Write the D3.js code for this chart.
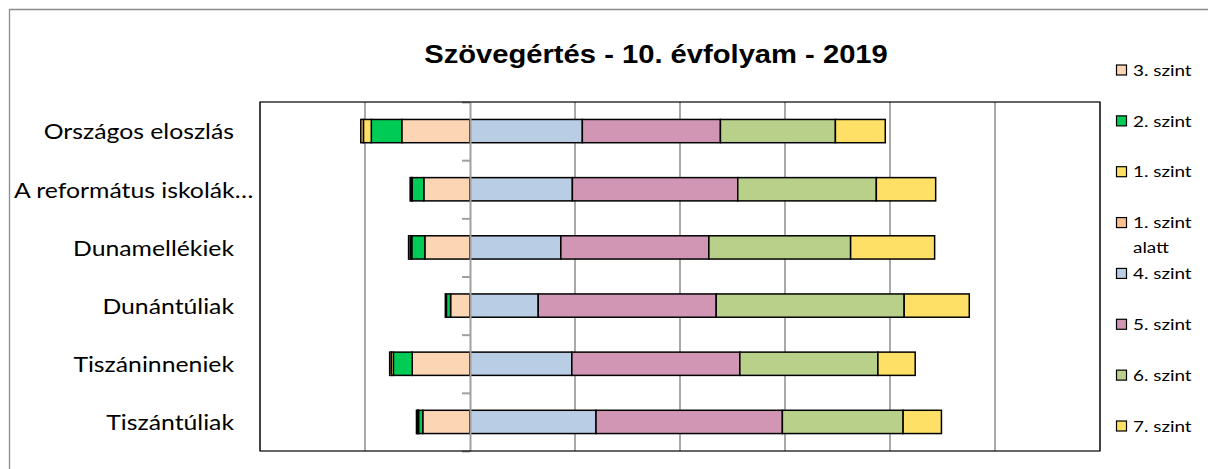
<!DOCTYPE html>
<html>
<head>
<meta charset="utf-8">
<script src="https://cdn.jsdelivr.net/npm/d3@7"></script>
<style>
  html, body { margin: 0; padding: 0; background: #fff; overflow: hidden; }
  svg { display: block; }
</style>
</head>
<body>
<svg id="chart" width="1208" height="469"></svg>
<script>
// ---- data ----
const categories = ["Országos eloszlás", "A református iskolák…", "Dunamellékiek", "Dunántúliak", "Tiszáninneniek", "Tiszántúliak"];
const levels = ["3. szint", "2. szint", "1. szint", "1. szint alatt", "4. szint", "5. szint", "6. szint", "7. szint"];
const negativeLevels = ["3. szint", "2. szint", "1. szint", "1. szint alatt"];
const szint3 = [13.0, 8.8, 8.6, 3.7, 11.0, 9.0];
const szint2 = [5.8, 2.2, 2.5, 0.8, 3.6, 0.8];
const szint1 = [1.5, 0.2, 0.3, 0.1, 0.4, 0.2];
const szint1alatt = [0.5, 0.2, 0.3, 0.1, 0.3, 0.2];
const szint4 = [21.4, 19.5, 17.3, 13.0, 19.4, 24.0];
const szint5 = [26.3, 31.5, 28.2, 33.9, 32.0, 35.5];
const szint6 = [21.9, 26.4, 27.0, 35.8, 26.3, 23.0];
const szint7 = [9.5, 11.3, 16.0, 12.4, 7.1, 7.3];
const gridValues = [-40, -20, 20, 40, 60, 80, 100, 120];
const title = "Szövegértés - 10. évfolyam - 2019";

const seriesValues = {
  "3. szint": szint3, "2. szint": szint2, "1. szint": szint1, "1. szint alatt": szint1alatt,
  "4. szint": szint4, "5. szint": szint5, "6. szint": szint6, "7. szint": szint7
};
const colors = {
  "3. szint": "#FCD5B4", "2. szint": "#00CC55", "1. szint": "#FFE066", "1. szint alatt": "#FAC090",
  "4. szint": "#B9CDE5", "5. szint": "#D196B3", "6. szint": "#B9D08A", "7. szint": "#FFE066"
};

// table for d3.stack (negative side stored as negative values)
const table = categories.map((c, i) => {
  const row = { cat: c };
  levels.forEach(l => {
    row[l] = negativeLevels.includes(l) ? -seriesValues[l][i] : seriesValues[l][i];
  });
  return row;
});

const svg = d3.select("#chart");
const W = 1208, H = 469;
const plot = { left: 260, right: 1100, top: 102, bottom: 451 };
const textStretch = 1.18;
const bodyFont = "Lato, 'Open Sans', sans-serif";

// outer chart frame: only top and left edges fall inside the window
svg.append("path")
  .attr("d", `M9.5,${H} V9.5 H${W}`)
  .attr("fill", "none").attr("stroke", "#8c8c8c").attr("stroke-width", 1.3);

const x = d3.scaleLinear().domain([-40, 120]).range([plot.left, plot.right]);
const y = d3.scaleBand().domain(categories).range([plot.top, plot.bottom]).paddingInner(0.6).paddingOuter(0.3);
const yLin = d3.scaleLinear().domain([0, categories.length]).range([plot.top, plot.bottom]);

// gridlines
svg.append("g").selectAll("line").data(gridValues).join("line")
  .attr("x1", d => x(d)).attr("x2", d => x(d))
  .attr("y1", plot.top).attr("y2", plot.bottom)
  .attr("stroke", "#a0a0a0").attr("stroke-width", 1.8);

// stacked bars
const stack = d3.stack().keys(levels).offset(d3.stackOffsetDiverging);
const series = stack(table);

svg.append("g").selectAll("g").data(series).join("g")
  .attr("fill", d => colors[d.key])
  .selectAll("rect").data(d => d).join("rect")
  .attr("x", d => x(Math.min(d[0], d[1])))
  .attr("width", d => Math.abs(x(d[1]) - x(d[0])))
  .attr("y", d => y(d.data.cat))
  .attr("height", y.bandwidth())
  .attr("stroke", "#000").attr("stroke-width", 1.5);

// category axis at zero
const axis = d3.axisLeft(yLin).tickValues(d3.range(categories.length + 1)).tickSize(8).tickFormat("").tickSizeOuter(0);
const axG = svg.append("g").attr("transform", `translate(${x(0)},0)`).call(axis);
axG.selectAll("path, line").attr("stroke", "#a0a0a0").attr("stroke-width", 2);

// plot border
svg.append("rect").attr("x", plot.left).attr("y", plot.top)
  .attr("width", plot.right - plot.left).attr("height", plot.bottom - plot.top)
  .attr("fill", "none").attr("stroke", "#000").attr("stroke-width", 1.2);

// category labels
const labels = svg.append("g").selectAll("text").data(categories).join("text")
  .attr("transform", d => `translate(234,${y(d) + y.bandwidth() / 2}) scale(${textStretch},1)`)
  .attr("dy", "0.4em")
  .attr("text-anchor", "end")
  .attr("font-family", bodyFont)
  .attr("font-size", 21)
  .attr("fill", "#000")
  .text(d => d);
labels.each(function (d) {
  const w = this.getComputedTextLength() * textStretch;
  if (w > 220) {
    d3.select(this)
      .attr("transform", `translate(14,${y(d) + y.bandwidth() / 2}) scale(${textStretch},1)`)
      .attr("text-anchor", "start");
  }
});

// title
svg.append("text")
  .attr("transform", `translate(656,63) scale(1.167,1)`)
  .attr("text-anchor", "middle")
  .attr("font-family", "'Liberation Sans', Arial, sans-serif")
  .attr("font-weight", "bold").attr("font-size", 25)
  .text(title);

// legend
const legendY = d3.scalePoint().domain(levels).range([70, 426]);
const lg = svg.append("g").selectAll("g").data(levels).join("g")
  .attr("transform", d => `translate(1116,${legendY(d)})`);
lg.append("rect").attr("x", 0.5).attr("y", -5).attr("width", 10).attr("height", 10)
  .attr("fill", d => colors[d]).attr("stroke", "#000").attr("stroke-width", 1.2);
lg.append("text")
  .attr("transform", `translate(17,0) scale(${textStretch},1)`)
  .attr("font-family", bodyFont).attr("font-size", 16)
  .each(function (d) {
    const parts = d === "1. szint alatt" ? ["1. szint", "alatt"] : [d];
    d3.select(this).selectAll("tspan").data(parts).join("tspan")
      .attr("x", 0).attr("dy", (p, i) => i === 0 ? "0.36em" : "25px").text(p => p);
  });
</script>
</body>
</html>
